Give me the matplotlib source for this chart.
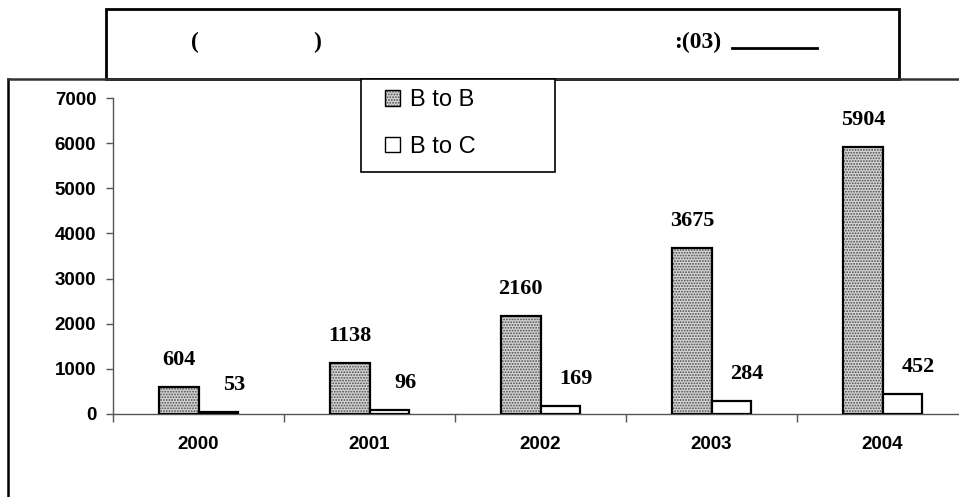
import matplotlib
matplotlib.use("Agg")
import matplotlib.pyplot as plt
from matplotlib.patches import Rectangle, Patch
from matplotlib.lines import Line2D
from matplotlib.legend_handler import HandlerTuple
import numpy as np

years = ["2000", "2001", "2002", "2003", "2004"]
b_to_b = [604, 1138, 2160, 3675, 5904]
b_to_c = [53, 96, 169, 284, 452]
series_names = ["B to B", "B to C"]
y_ticks = [0, 1000, 2000, 3000, 4000, 5000, 6000, 7000]

W, H = 959, 497
plt.rcParams["hatch.linewidth"] = 0.9

fig = plt.figure(figsize=(W / 100, H / 100), dpi=100)

def fx(x):
    return x / W

def fy(y):
    return 1 - y / H

# axes placement (pixels)
ax_left, ax_right, ax_top, ax_bottom = 113, 968, 98, 414
ax = fig.add_axes([fx(ax_left), fy(ax_bottom), (ax_right - ax_left) / W, (ax_bottom - ax_top) / H])
ax.patch.set_alpha(0)

x = np.arange(len(years))
bw = 0.23
hatch_face = "#d6d6d6"
hatch_col = "#4a4a4a"
hatch_pat = "......"

# B to B: hatched fill + black outline
ax.bar(x - bw / 2, b_to_b, bw, color=hatch_face, edgecolor=hatch_col, hatch=hatch_pat, linewidth=0, zorder=2)
ax.bar(x - bw / 2, b_to_b, bw, fill=False, edgecolor="black", linewidth=1.6, zorder=3)
# B to C: white
ax.bar(x + bw / 2, b_to_c, bw, color="white", edgecolor="black", linewidth=1.6, zorder=3)

lab_font = dict(family="Liberation Serif", weight="bold", size=16)
for xi, v in zip(x, b_to_b):
    ax.annotate(str(v), (xi - bw / 2, v), xytext=(0, 27), textcoords="offset pixels",
                ha="center", va="center", **lab_font)
for xi, v in zip(x, b_to_c):
    ax.annotate(str(v), (xi + bw / 2, v), xytext=(16, 27), textcoords="offset pixels",
                ha="center", va="center", **lab_font)

ax.set_xlim(-0.5, len(years) - 0.5)
ax.set_ylim(0, 7000)
ax.set_yticks(y_ticks)
ax.set_yticklabels([str(t) for t in y_ticks], family="Liberation Sans", weight="bold", fontsize=13.5)
ax.set_xticks(np.arange(-0.5, len(years), 1.0))
ax.set_xticklabels([])
ax.set_xticks(x, minor=True)
ax.set_xticklabels(years, minor=True, family="Liberation Sans", weight="bold", fontsize=13.5)
ax.tick_params(axis="x", which="minor", length=0, pad=16)
ax.tick_params(axis="x", which="major", length=6, direction="out", color="#555555", width=1)
ax.tick_params(axis="y", length=5, direction="out", color="#555555", width=1, pad=7)
for s in ["top", "right"]:
    ax.spines[s].set_visible(False)
for s in ["left", "bottom"]:
    ax.spines[s].set_color("#555555")
    ax.spines[s].set_linewidth(1.0)

# outer chart frame (left and top visible)
fig.add_artist(Line2D([fx(8), fx(8)], [fy(79), fy(H + 5)], color="black", lw=1.8, transform=fig.transFigure))
fig.add_artist(Line2D([fx(8), fx(W + 5)], [fy(79), fy(79)], color="#333333", lw=1.8, transform=fig.transFigure))

# title box
fig.add_artist(Rectangle((fx(106), fy(79)), (899 - 106) / W, (79 - 9) / H, transform=fig.transFigure,
                         fill=True, facecolor="white", edgecolor="black", lw=2.0))
tfont = dict(family="Liberation Serif", weight="bold", size=17)
fig.text(fx(195), fy(42), "(", ha="center", va="center", **tfont)
fig.text(fx(317), fy(42), ")", ha="center", va="center", **tfont)
fig.text(fx(721), fy(42), ":(03)", ha="right", va="center", **tfont)
fig.add_artist(Line2D([fx(732), fx(817)], [fy(48), fy(48)], color="black", lw=2.0, transform=fig.transFigure))

# legend frame
fig.add_artist(Rectangle((fx(361), fy(172)), (555 - 361) / W, (172 - 79) / H, transform=fig.transFigure,
                         fill=True, facecolor="white", edgecolor="black", lw=1.2, zorder=4))
h_bb = (Patch(facecolor=hatch_face, edgecolor=hatch_col, hatch=hatch_pat, linewidth=0),
        Patch(fill=False, edgecolor="black", linewidth=1.0))
h_bc = Patch(facecolor="white", edgecolor="black", linewidth=1.0)
leg = fig.legend([h_bb, h_bc], series_names, loc="upper left",
                 bbox_to_anchor=(fx(385), fy(89)), bbox_transform=fig.transFigure,
                 frameon=False, handler_map={tuple: HandlerTuple(ndivide=1, pad=0)},
                 prop=dict(family="Liberation Sans", size=17),
                 handlelength=0.65, handleheight=0.65, handletextpad=0.4, labelspacing=1.05,
                 borderpad=0, borderaxespad=0)
leg.set_zorder(5)

fig.savefig("out.png", dpi=100)
